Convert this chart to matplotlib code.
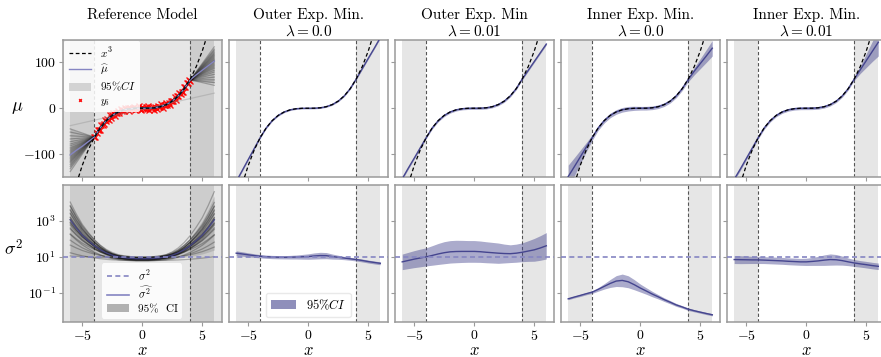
import numpy as np
import matplotlib
matplotlib.use("Agg")
import matplotlib.pyplot as plt
from matplotlib.lines import Line2D
from matplotlib.patches import Patch
from matplotlib.ticker import NullLocator

plt.rcParams['font.family'] = 'serif'
plt.rcParams['font.serif'] = ['cmr10']
plt.rcParams['mathtext.fontset'] = 'cm'
plt.rcParams['axes.formatter.use_mathtext'] = True

# --- Data ---
x_grid = np.array([-6.0, -5.5, -5.0, -4.5, -4.0, -3.5, -3.0, -2.5, -2.0, -1.5, -1.0, -0.5, 0.0,
                   0.5, 1.0, 1.5, 2.0, 2.5, 3.0, 3.5, 4.0, 4.5, 5.0, 5.5, 6.0])
true_mu = np.array([-216, -166.4, -125, -91.1, -64, -42.9, -27, -15.6, -8, -3.4, -1, -0.1, 0,
                    0.1, 1, 3.4, 8, 15.6, 27, 42.9, 64, 91.1, 125, 166.4, 216])
true_sigma2 = 10.0

# observations y_i on [-4, 4] (sample positions are evenly spaced)
x_obs = np.linspace(-4, 4, 81)
y_obs = np.array([-61.9, -62.7, -54.1, -46.5, -48.2, -47.7, -36.4, -35.6, -35.0, -26.1,
                  -27.9, -22.8, -25.9, -15.2, -20.2, -15.1, -10.7, -16.3, -9.4, -10.0,
                  -5.6, -9.9, -1.8, -6.7, -3.2, -6.3, 0.8, -2.6, 0.2, -5.7,
                  1.6, -1.8, -0.3, 3.5, -3.5, 1.3, -2.1, 4.3, -0.6, -3.7,
                  2.2, 0.7, -2.5, 3.3, -1.2, 4.7, -2.9, 1.3, 0.3, 3.5,
                  -3.0, 3.0, -0.6, 5.8, 3.1, 1.8, 8.2, 1.3, 7.8, 6.1,
                  11.0, 6.6, 11.9, 7.9, 16.3, 15.7, 15.7, 23.6, 18.8, 25.9,
                  26.5, 34.2, 30.4, 36.5, 35.5, 45.6, 45.5, 54.1, 54.6, 61.1, 59.4])

# reference model: mean fit and ensemble tails
ref_mu_hat = np.array([-102, -92, -83, -73, -63, -42.9, -27, -15.6, -8, -3.4, -1, -0.1, 0,
                       0.1, 1, 3.4, 8, 15.6, 27, 42.9, 62, 73, 83, 93, 103])
ref_mu_lo = np.array([-130, -113, -96, -80, -66, -45.5, -29.5, -18, -10.5, -6, -3.5, -2.5, -2.5,
                      -2.3, -1.5, 1, 5.5, 13, 24.5, 40.3, 60, 59, 58, 56, 55])
ref_mu_hi = np.array([-45, -50, -54, -58, -62, -40.3, -24.5, -13, -5.5, -1, 1.5, 2.3, 2.5,
                      2.5, 3.5, 6, 10.5, 18, 29.5, 45.5, 67, 83, 100, 116, 132])
ens_mu_left = [-138, -132, -127, -123, -119, -116, -113, -110, -107, -104, -101, -98,
               -95, -92, -89, -86, -82, -78, -73, -67, -60, -52, -45]
ens_mu_right = [134, 129, 125, 121, 118, 115, 112, 109, 106, 104, 102, 99,
                96, 93, 90, 87, 83, 79, 74, 68, 62, 56, 50]
outlier_mu = [-38, 33]

ref_s2_hat = np.array([1120, 400, 160, 79, 42, 25, 16.6, 12.3, 10, 8.9, 8.3, 7.9, 7.9,
                       7.9, 8.3, 8.9, 10, 12.3, 16.6, 25, 42, 79, 160, 400, 1120])
ens_s2_left_scale = [0.05, 0.2, 0.35, 0.5, 0.6, 0.68, 0.75, 0.8, 0.85, 0.9, 0.94, 0.98,
                     1.02, 1.06, 1.1, 1.14, 1.18, 1.22, 1.27, 1.32, 1.38, 1.45, 0.95]
ens_s2_right_scale = [1.7, 0.1, 0.3, 0.45, 0.58, 0.66, 0.74, 0.8, 0.85, 0.9, 0.94, 0.98,
                      1.02, 1.05, 1.09, 1.13, 1.17, 1.21, 1.26, 1.31, 1.37, 1.44, 0.92]
ens_s2_offset = [0.05, -0.1, 0.0, -0.05, 0.08, -0.12, 0.03, -0.02, 0.1, -0.08, 0.0, 0.06,
                 -0.04, 0.02, -0.1, 0.07, -0.06, 0.04, -0.01, 0.09, -0.07, 0.01, -0.03]

# fitted models: mu and half-width of 95% CI
titles = ["Outer Exp. Min.\n$\\lambda = 0.0$", "Outer Exp. Min\n$\\lambda = 0.01$",
          "Inner Exp. Min.\n$\\lambda = 0.0$", "Inner Exp. Min.\n$\\lambda = 0.01$"]
mu_fits = [
    [-160, -136, -112, -88, -64, -42.9, -27, -15.6, -8, -3.4, -1, -0.1, 0,
     0.1, 1, 3.4, 8, 15.6, 27, 42.9, 64, 86.5, 109, 131, 154],
    [-154, -131, -109, -86.5, -64, -42.9, -27, -15.6, -8, -3.4, -1, -0.1, 0,
     0.1, 1, 3.4, 8, 15.6, 27, 42.9, 64, 83, 102, 121, 140],
    [-149, -128, -106.5, -85, -64, -42.9, -27, -15.6, -8, -3.4, -1, -0.1, 0,
     0.1, 1, 3.4, 8, 15.6, 27, 42.9, 63, 81, 97.5, 114, 131],
    [-155, -133, -110, -87, -64, -42.9, -27, -15.6, -8, -3.4, -1, -0.1, 0,
     0.1, 1, 3.4, 8, 15.6, 27, 42.9, 64, 84, 104, 124, 144],
]
mu_hw = [
    [1.5] * 25,
    [2, 2, 2, 2, 2, 2.5, 2.5, 2.5, 2.5, 2.5, 2.5, 2.5, 2.5,
     2.5, 2.5, 2.5, 2.5, 2.5, 2.5, 2.5, 2, 2, 2, 2, 2],
    [25, 20, 15, 10, 6, 5, 5, 5, 5, 5, 5, 4.5, 4, 4, 4, 4, 4, 4, 4, 4, 5, 8, 11, 14, 17],
    [3, 3, 3, 3, 3, 3, 3, 3, 3, 3, 3, 3, 3, 3, 3, 3, 3, 3, 3, 3, 3, 8, 15, 22, 30],
]
s2_fits = [
    [16, 14.5, 13, 11.8, 10.8, 10.2, 9.8, 9.6, 9.5, 9.6, 9.8, 10.1, 10.4,
     11.2, 11.8, 11.7, 10.4, 9.5, 8.6, 7.8, 7.1, 6.3, 5.5, 4.9, 4.4],
    [5.3, 6.3, 7.5, 8.7, 10, 12, 14.5, 17, 19, 19.8, 20, 20, 20,
     19.3, 18, 17, 16, 15.3, 15, 16, 18, 21, 24.5, 31, 41],
    [0.048, 0.06, 0.074, 0.092, 0.113, 0.16, 0.234, 0.34, 0.46, 0.5, 0.42, 0.29, 0.19,
     0.13, 0.088, 0.062, 0.043, 0.031, 0.022, 0.017, 0.0128, 0.0105, 0.0088, 0.0074, 0.0063],
    [7.1, 7.0, 6.9, 6.8, 6.8, 6.6, 6.4, 6.2, 6.0, 5.7, 5.5, 5.3, 5.3,
     5.6, 6.0, 6.6, 7.1, 6.9, 6.2, 5.3, 4.6, 4.1, 3.7, 3.3, 3.0],
]
# half-width of the sigma^2 CI in decades
s2_hw = [
    [0.13, 0.12, 0.11, 0.1, 0.09, 0.09, 0.09, 0.09, 0.09, 0.1, 0.11, 0.13, 0.15,
     0.17, 0.18, 0.17, 0.14, 0.11, 0.09, 0.08, 0.08, 0.08, 0.08, 0.08, 0.08],
    [0.43, 0.45, 0.47, 0.49, 0.5, 0.54, 0.58, 0.61, 0.62, 0.62, 0.61, 0.6, 0.6,
     0.59, 0.58, 0.57, 0.56, 0.52, 0.49, 0.5, 0.52, 0.57, 0.63, 0.68, 0.73],
    [0.05, 0.05, 0.06, 0.06, 0.07, 0.1, 0.15, 0.22, 0.3, 0.35, 0.33, 0.28, 0.22,
     0.18, 0.15, 0.12, 0.1, 0.09, 0.08, 0.07, 0.07, 0.06, 0.06, 0.06, 0.06],
    [0.22, 0.22, 0.21, 0.2, 0.2, 0.19, 0.19, 0.19, 0.19, 0.19, 0.19, 0.19, 0.2,
     0.22, 0.25, 0.29, 0.31, 0.29, 0.25, 0.21, 0.19, 0.18, 0.18, 0.18, 0.18],
]

BLUE = '#45458f'
BLUE_LIGHT = '#8585c2'
SPINE = '#9a9a9a'

# --- Layout (pixel boxes of the original figure) ---
W, H = 881, 357
fig = plt.figure(figsize=(W / 100, H / 100), dpi=100)
lefts = [63, 229, 395, 561, 727]
aw = 158.5
top_box = (39.5, 177)
bot_box = (184.5, 322)


def make_ax(left, box):
    return fig.add_axes([left / W, 1 - box[1] / H, aw / W, (box[1] - box[0]) / H])


def decorate(ax, ref=False):
    if ref:
        ax.set_facecolor('#e6e6e6')
        c = '#cdcdcd'
    else:
        c = '#e6e6e6'
    ax.axvspan(-6, -4, color=c, lw=0, zorder=0)
    ax.axvspan(4, 6, color=c, lw=0, zorder=0)
    for xv in (-4, 4):
        ax.axvline(xv, color='#555555', ls=(0, (3, 2)), lw=0.8, zorder=1)
    ax.set_xlim(-6.6, 6.6)
    ax.set_xticks([-5, 0, 5])
    for s in ax.spines.values():
        s.set_color(SPINE)
        s.set_linewidth(1.1)
    ax.tick_params(direction='out', length=3, width=0.8, color=SPINE, labelsize=10, pad=2)


top_axes = [make_ax(l, top_box) for l in lefts]
bot_axes = [make_ax(l, bot_box) for l in lefts]

# --- Reference model, mu ---
ax = top_axes[0]
decorate(ax, ref=True)
ax.plot(x_obs, y_obs, 'x', color='red', ms=4, mew=1.0, alpha=0.9, zorder=2, label='$y_i$')
core = slice(4, 21)
for le, re in zip(ens_mu_left, ens_mu_right):
    xs = np.concatenate([[-6], x_grid[core], [6]])
    ys = np.concatenate([[le], ref_mu_hat[core], [re]])
    ax.plot(xs, ys, color='k', lw=0.9, alpha=0.26, zorder=3)
ax.plot([-6, 6], outlier_mu, color='0.55', lw=0.9, alpha=0.35, zorder=3)
ax.fill_between(x_grid, ref_mu_lo, ref_mu_hi, color='grey', alpha=0.3, lw=0, zorder=2,
                label='$95\\%CI$')
ax.plot(x_grid, ref_mu_hat, color=BLUE_LIGHT, lw=1.0, zorder=4, label='$\\widehat{\\mu}$')
ax.plot(x_grid, true_mu, color='k', ls=(0, (3, 2)), lw=0.9, zorder=5, label='$x^3$')
h, l = ax.get_legend_handles_labels()
order = [3, 2, 1, 0]
ax.legend([h[i] for i in order], [l[i] for i in order], loc='upper left', fontsize=8,
          borderaxespad=0.1, labelspacing=0.25, markerscale=0.5, framealpha=0.85,
          edgecolor='none')
ax.set_title("Reference Model\n ", fontsize=11, pad=3)

# --- Reference model, sigma^2 ---
ax = bot_axes[0]
decorate(ax, ref=True)
log_hat = np.log10(ref_s2_hat)
base = log_hat.min()
members = []
for a, b, off in zip(ens_s2_left_scale, ens_s2_right_scale, ens_s2_offset):
    sc = np.where(x_grid < 0, a, b)
    m = 10 ** (base + off + sc * (log_hat - base))
    members.append(m)
    ax.plot(x_grid, m, color='k', lw=0.9, alpha=0.26, zorder=3)
members = np.array(members)
ax.fill_between(x_grid, np.percentile(members, 2.5, axis=0), np.percentile(members, 97.5, axis=0),
                color='grey', alpha=0.3, lw=0, zorder=2)
ax.plot(x_grid, ref_s2_hat, color=BLUE, lw=1.0, alpha=0.8, zorder=4)
ax.axhline(true_sigma2, color=BLUE_LIGHT, ls=(0, (3, 2)), lw=1.2, zorder=5)
ax.legend([Line2D([], [], color=BLUE_LIGHT, ls=(0, (3, 2)), lw=1.2),
           Line2D([], [], color=BLUE_LIGHT, lw=1.2),
           Patch(color='grey', alpha=0.6, lw=0)],
          ['$\\sigma^2$', '$\\widehat{\\sigma^2}$', '95%  CI'],
          loc='lower center', fontsize=8, borderaxespad=0.3, labelspacing=0.3,
          framealpha=0.85, edgecolor='none')

# --- Fitted models ---
for i in range(4):
    ax = top_axes[i + 1]
    decorate(ax)
    mu = np.array(mu_fits[i])
    hw = np.array(mu_hw[i])
    ax.fill_between(x_grid, mu - hw, mu + hw, color=BLUE, alpha=0.45, lw=0, zorder=2)
    ax.plot(x_grid, mu, color=BLUE, lw=1.0, zorder=3)
    ax.plot(x_grid, true_mu, color='k', ls=(0, (3, 2)), lw=0.9, zorder=4)
    ax.set_title(titles[i], fontsize=11, pad=3)

    ax = bot_axes[i + 1]
    decorate(ax)
    s2 = np.array(s2_fits[i])
    sh = 10 ** np.array(s2_hw[i])
    ax.fill_between(x_grid, s2 / sh, s2 * sh, color=BLUE, alpha=0.45, lw=0, zorder=2)
    ax.plot(x_grid, s2, color=BLUE, lw=1.0, zorder=3)
    ax.axhline(true_sigma2, color=BLUE_LIGHT, ls=(0, (3, 2)), lw=1.2, zorder=5)
    if i == 0:
        ax.legend([Patch(color=BLUE, alpha=0.6, lw=0)], ['$95\\%CI$'], loc='lower center',
                  fontsize=9, borderaxespad=0.4, framealpha=0.85, edgecolor='0.9')

# --- Axes scales, ticks and labels ---
for j, ax in enumerate(top_axes):
    ax.set_ylim(-150, 150)
    ax.set_yticks([-100, 0, 100])
    ax.tick_params(labelbottom=False, labelleft=(j == 0))
for j, ax in enumerate(bot_axes):
    ax.set_yscale('log')
    ax.set_ylim(10 ** -2.6, 1e5)
    ax.set_yticks([0.1, 10, 1000])
    ax.yaxis.set_minor_locator(NullLocator())
    ax.tick_params(labelleft=(j == 0))
    ax.set_xlabel('$x$', fontsize=12, labelpad=0)

top_axes[0].set_ylabel('$\\mu$', fontsize=13, rotation=0, va='center', ha='center')
top_axes[0].yaxis.set_label_coords(-0.29, 0.5)
bot_axes[0].set_ylabel('$\\sigma^2$', fontsize=13, rotation=0, va='center', ha='center')
bot_axes[0].yaxis.set_label_coords(-0.31, 0.54)

fig.savefig('out.png', dpi=100)
